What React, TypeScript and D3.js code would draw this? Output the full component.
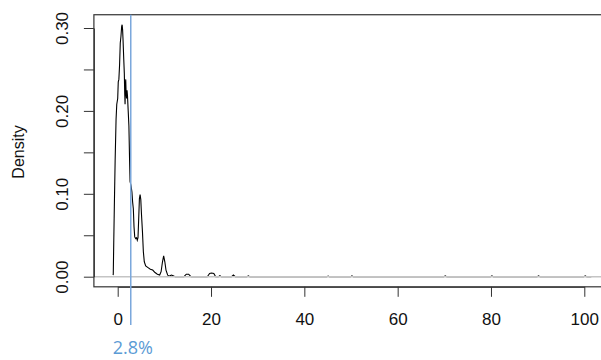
import React, { useEffect, useRef } from 'react';
import * as d3 from 'd3';

// density estimate
const densityX = [
  -1.0, -0.95, -0.85, -0.72, -0.55, -0.35, -0.2, 0.0, 0.12, 0.25, 0.4, 0.55, 0.7, 0.85, 0.95,
  1.05, 1.15, 1.3, 1.42, 1.5, 1.58, 1.66, 1.72, 1.8, 1.9, 2.0, 2.1, 2.25, 2.4, 2.55, 2.65,
  2.85, 3.05, 3.2, 3.35, 3.5, 3.65, 3.85, 4.05, 4.2, 4.35, 4.5, 4.65, 4.8, 4.95, 5.1, 5.3,
  5.5, 5.7, 6.0, 6.5, 7.0, 7.5, 8.0, 8.5, 9.0, 9.3, 9.6, 9.85, 10.1, 10.35, 10.7, 11.0, 11.5,
  11.9, 12.3, 14.2, 14.7, 15.2, 15.7, 19.2, 19.7, 20.1, 20.6, 21.0, 21.6, 21.9, 22.2, 24.4,
  24.8, 25.2, 27.7, 28.0, 28.3, 44.8, 45.1, 45.4, 49.9, 50.2, 50.5, 69.9, 70.2, 70.5, 79.9,
  80.2, 80.5, 89.9, 90.2, 90.5, 99.9, 100.2, 100.5, 101.5,
];
const densityY = [
  0.002, 0.003, 0.04, 0.085, 0.14, 0.19, 0.208, 0.215, 0.235, 0.238, 0.255, 0.282, 0.29, 0.302, 0.304,
  0.298, 0.285, 0.262, 0.245, 0.222, 0.208, 0.232, 0.238, 0.222, 0.215, 0.225, 0.218, 0.2, 0.182, 0.14, 0.115,
  0.11, 0.102, 0.09, 0.082, 0.06, 0.048, 0.046, 0.047, 0.044, 0.047, 0.07, 0.094, 0.099, 0.093, 0.075, 0.055,
  0.03, 0.018, 0.013, 0.011, 0.009, 0.008, 0.005, 0.003, 0.002, 0.006, 0.018, 0.025, 0.018, 0.008, 0.002, 0.0005, 0.002,
  0.001, 0, 0, 0.003, 0.003, 0, 0, 0.004, 0.0045, 0.004, 0, 0, 0.0012, 0, 0,
  0.002, 0, 0, 0.001, 0, 0, 0.0006, 0, 0, 0.001, 0, 0, 0.001, 0, 0,
  0.001, 0, 0, 0.001, 0, 0, 0.001, 0, 0,
];
const xTicks = [0, 20, 40, 60, 80, 100];
const yTicks = [0, 0.05, 0.1, 0.15, 0.2, 0.25, 0.3];
const yLabelled = [0, 0.1, 0.2, 0.3];
const markerValue = 2.8;
const markerLabel = '2.8%';

export default function App() {
  const svgRef = useRef<SVGSVGElement>(null);

  useEffect(() => {
    const svg = d3.select(svgRef.current);
    svg.selectAll('*').remove();

    const x = d3.scaleLinear().domain([0, 100]).range([117.7, 584.3]);
    const y = d3.scaleLinear().domain([0, 0.3]).range([276.7, 28]);
    const xlim = [-5.1, 105.1];
    const ylim = [-0.0122, 0.316];
    const font = "'Liberation Sans', Arial, sans-serif";

    const pts = densityX.map((d, i) => [d, densityY[i]] as [number, number]);
    const line = d3
      .line<[number, number]>()
      .x((d) => x(d[0]))
      .y((d) => y(d[1]));

    svg
      .append('path')
      .datum(pts)
      .attr('d', line)
      .attr('fill', 'none')
      .attr('stroke', '#000')
      .attr('stroke-width', 1.1);

    // zero line on top, like plot.density
    svg
      .append('line')
      .attr('x1', x(xlim[0]))
      .attr('x2', x(xlim[1]))
      .attr('y1', y(0))
      .attr('y2', y(0))
      .attr('stroke', '#c4c4c4')
      .attr('stroke-width', 1.6);

    // plot box
    svg
      .append('rect')
      .attr('x', x(xlim[0]))
      .attr('y', y(ylim[1]))
      .attr('width', x(xlim[1]) - x(xlim[0]))
      .attr('height', y(ylim[0]) - y(ylim[1]))
      .attr('fill', 'none')
      .attr('stroke', '#333')
      .attr('stroke-width', 1.2);

    const bottom = y(ylim[0]);
    const xAxis = d3.axisBottom(x).tickValues(xTicks).tickSize(10).tickSizeOuter(0);
    svg
      .append('g')
      .attr('transform', 'translate(0,' + bottom + ')')
      .call(xAxis)
      .call((g) => g.select('.domain').attr('stroke', '#333'))
      .call((g) => g.selectAll('.tick line').attr('stroke', '#333'))
      .call((g) =>
        g
          .selectAll('.tick text')
          .attr('y', 38)
          .attr('dy', 0)
          .attr('fill', '#111')
          .style('font-family', font)
          .style('font-size', '17px')
      );

    const left = x(xlim[0]);
    const yAxis = d3
      .axisLeft(y)
      .tickValues(yTicks)
      .tickSize(10)
      .tickSizeOuter(0)
      .tickFormat((d) => (yLabelled.some((v) => Math.abs(v - +d) < 1e-9) ? d3.format('.2f')(+d) : ''));
    svg
      .append('g')
      .attr('transform', 'translate(' + left + ',0)')
      .call(yAxis)
      .call((g) => g.select('.domain').attr('stroke', '#333'))
      .call((g) => g.selectAll('.tick line').attr('stroke', '#333'))
      .call((g) =>
        g
          .selectAll('.tick text')
          .attr('x', 0)
          .attr('y', 0)
          .attr('dy', 0)
          .attr('transform', 'translate(-26,0) rotate(-90)')
          .attr('text-anchor', 'middle')
          .attr('fill', '#111')
          .style('font-family', font)
          .style('font-size', '17px')
      );

    svg
      .append('text')
      .attr('transform', 'translate(24,152) rotate(-90)')
      .attr('text-anchor', 'middle')
      .attr('fill', '#111')
      .style('font-family', font)
      .style('font-size', '16px')
      .text('Density');

    // marker line and label
    svg
      .append('line')
      .attr('x1', x(markerValue))
      .attr('x2', x(markerValue))
      .attr('y1', y(ylim[1]))
      .attr('y2', 325)
      .attr('stroke', '#7aa7dc')
      .attr('stroke-width', 1.5);

    svg
      .append('text')
      .attr('x', x(markerValue) + 2)
      .attr('y', 354)
      .attr('text-anchor', 'middle')
      .attr('fill', '#5b9bd5')
      .style('font-family', "'Open Sans', 'Noto Sans', sans-serif")
      .style('font-size', '18px')
      .text(markerLabel);
  }, []);

  return (
    <svg
      ref={svgRef}
      width={601}
      height={360}
      style={{ position: 'absolute', left: 0, top: 0, background: '#fff' }}
    />
  );
}
